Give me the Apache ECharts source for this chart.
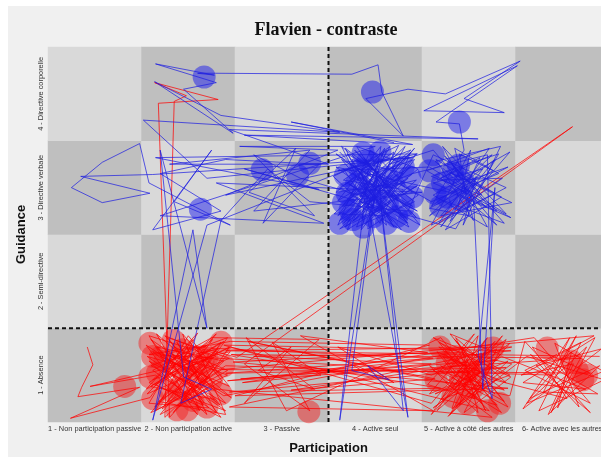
<!DOCTYPE html>
<html>
<head>
<meta charset="utf-8">
<script src="https://cdn.jsdelivr.net/npm/echarts@6/dist/echarts.min.js"></script>
<style>
html,body{margin:0;padding:0;background:#ffffff;width:601px;height:457px;overflow:hidden;}
#chart{position:absolute;left:8px;top:6px;width:593px;height:451px;}
</style>
</head>
<body>
<div id="chart"></div>
<script>
const participation = ['1 - Non participation passive','2 - Non participation active','3 - Passive','4 - Active seul','5 - Active à côté des autres','6- Active avec les autres'];
const guidance = ['1 - Absence','2 - Semi-directive','3 - Directive verbale','4 - Directive corporelle'];

const blueWalk = [
[3.62,3.38],[4.35,2.62],[3.70,3.05],[4.42,3.30],[3.85,2.55],[4.10,3.42],[3.65,2.80],[4.40,2.95],[3.95,3.40],[3.60,2.60],[4.30,3.15],[3.75,3.30],[4.20,2.58],[3.88,3.05],[4.45,2.75],[3.66,3.20],[4.05,2.62],[4.38,3.38],[3.72,2.70],[4.15,3.25],
[4.62,3.40],[5.30,2.60],[4.70,3.10],[5.25,3.35],[4.58,2.70],[5.10,3.05],[4.75,2.55],[5.35,2.90],[4.65,3.30],[5.05,2.65],[4.85,3.42],[5.32,3.15],[4.60,2.85],
[4.25,3.05],[3.58,2.95],[4.12,3.40],[3.80,2.58],[4.42,2.85],[3.68,3.42],[4.00,2.75],[4.35,3.10],[3.62,2.65],[4.22,3.32],[3.90,2.90],
[3.20,3.10],[2.70,3.35],[3.35,2.70],[2.65,2.95],[3.15,3.42],[2.80,2.62],[3.40,3.25],
[2.40,3.30],[1.70,3.15],[2.35,2.75],[1.62,2.55],[2.25,3.40],[1.85,2.85],[2.45,2.60],[1.58,3.05],
[1.48,3.47],[1.08,3.27],[0.75,3.00],[1.08,2.84],[1.59,2.94],[0.85,3.12],[1.62,3.14],
[4.40,3.32],[2.20,3.10],
[1.52,3.72],[3.62,3.59],[2.35,3.77],[1.64,4.13],[2.48,3.58],[1.95,4.05],[2.30,4.12],[1.65,4.32],[2.28,4.20],[2.10,4.22],
[2.29,4.22],[3.75,4.21],[4.03,4.31],[4.07,4.02],
[4.30,3.55],[3.90,3.95],[4.35,4.05],
[4.75,4.00],[5.55,4.35],[4.95,3.95],[5.38,3.80],[4.52,3.82],[5.52,4.30],[4.65,3.70],[4.90,3.68],
[4.95,3.40],[4.60,2.80],[5.28,3.30],[4.70,2.58],[5.15,3.20],[4.62,3.05],[5.30,2.75],[4.82,3.25],[5.05,2.90],
[5.15,0.85],[5.28,3.00],[5.10,1.20],[5.25,0.75],[5.20,3.35],
[4.40,3.15],[3.70,2.88],[4.28,2.55],[3.64,3.30],[4.18,3.00],[3.78,3.40],[4.44,2.68],[3.92,3.18],
[3.62,0.52],[4.02,3.10],[3.75,1.05],[4.15,0.95],[3.92,1.10],[4.30,0.62],[4.05,2.90],[4.35,0.55],[3.85,3.20],
[4.38,3.40],[3.60,2.70],[4.08,3.36],[3.70,2.55],[4.45,3.02],[3.85,2.68],[4.25,3.45],[3.55,3.12],[4.12,2.60],[3.98,3.30],
[2.20,2.60],[1.62,0.52],[2.05,2.55],[2.20,1.50],[1.70,3.40],[1.95,0.98],[2.25,0.85],[1.92,0.70],[2.35,2.65],
[2.85,3.20],[3.30,2.85],[4.35,2.75],[4.62,3.35],[5.40,3.00],[4.68,2.62],[5.22,3.42],[4.55,3.18],[5.45,2.68],[4.80,2.95],
[3.58,3.22],[4.28,2.70],[3.80,3.44],[4.46,3.20],[3.68,2.58],[4.02,3.18],[4.36,2.58],[3.62,3.00],[4.20,3.38],[3.90,2.62],[4.44,3.08],[3.74,2.92],[4.10,2.70],[3.56,2.72],[4.32,3.44],[3.96,2.80],[3.64,3.44],[4.40,2.80],[3.82,3.12],[4.18,2.64],
[3.70,3.36],[4.46,2.92],[3.92,2.56],[4.06,3.44],[3.60,2.86],[4.26,3.26],[3.86,2.74],[4.42,3.42],[3.66,2.62],[4.14,3.06],[3.78,3.22],[4.34,2.66],[3.98,3.10],[3.58,3.36],[4.24,2.86],[3.88,3.32],[4.48,2.60],[3.72,3.04],[4.08,2.78],[3.62,2.56],
[4.38,3.22],[3.84,2.90],[4.16,3.44],[3.66,3.08],[4.30,2.98],[3.94,2.68],[4.44,3.36],[3.76,2.64],[4.04,3.28],[3.60,3.18],
[4.58,3.22],[5.40,2.72],[4.72,3.44],[5.20,2.58],[4.62,2.92],[5.44,3.38],[4.80,2.64],[5.12,3.32],[4.66,3.08],[5.36,3.10],[4.88,2.76],[5.02,3.40],[4.60,2.60],[5.28,2.94],[4.76,3.18],[5.46,2.84],[4.70,2.70],[5.08,3.12],[4.94,2.60],[5.34,3.44],
[4.64,3.28],[5.18,2.80],[4.84,3.02],[5.42,3.22],[4.58,2.78],[5.00,2.70],[4.90,3.36],[5.26,3.18],[4.68,2.88],[5.38,2.62],[4.74,3.34],[5.14,2.92],[4.60,3.12],[5.32,3.36],[4.86,2.56],
[2.60,3.20],[3.40,2.98],[1.65,3.32],[4.45,3.36],[2.40,2.92],[3.60,3.40],[2.55,3.44],[4.00,3.44],[1.70,2.70],[3.45,2.62],[2.30,3.05],[4.50,2.95],[2.70,2.75],[3.30,3.40],[1.80,3.25],[3.50,3.25],
[2.44,3.62],[5.10,3.52],[2.60,3.56],[4.40,3.46],[3.10,3.70],[4.20,3.48]
];

const redWalk = [
[0.92,1.30],[0.98,1.11],[0.86,0.87],[0.82,0.77],[1.48,0.87],[0.74,0.54],[1.59,0.76],
[2.05,1.38],[1.62,0.95],[2.30,1.20],[1.75,1.42],[2.40,0.70],[1.58,1.15],[2.20,0.58],[1.85,1.30],[2.42,1.05],[1.65,0.62],[2.10,1.45],[1.55,0.85],[2.35,1.35],[1.90,0.66],[2.28,0.92],[1.60,1.38],[2.15,0.75],[1.72,1.08],[2.45,1.25],[1.80,0.55],
[1.68,3.90],[2.32,3.94],[1.64,4.12],[1.98,3.98],[1.85,3.92],[1.75,0.55],
[2.38,1.15],[1.66,1.30],[2.22,0.65],[1.58,0.70],[2.00,1.42],[2.44,0.88],[1.70,1.20],[2.12,1.00],[1.88,1.35],[2.30,0.60],[1.62,1.05],[2.25,1.40],
[3.40,1.38],[2.60,0.70],[3.10,1.30],[2.75,1.05],[3.35,0.85],[2.62,1.40],[3.05,0.62],
[4.70,1.40],[5.35,0.60],[4.62,1.05],[5.20,1.30],[4.80,0.58],[5.42,1.15],[4.58,0.80],[5.10,1.42],[4.90,0.68],[5.30,0.95],[4.66,1.25],[5.05,0.75],[5.40,1.38],[4.75,0.92],[5.25,0.55],
[2.30,0.85],[1.75,1.25],[2.42,1.00],[1.60,0.60],[2.18,1.28],
[2.52,1.19],[6.11,3.65],[2.60,1.12],
[3.30,0.62],[2.90,1.35],[3.42,1.00],[2.58,0.92],
[5.70,1.40],[6.30,0.70],[5.60,1.05],[6.20,1.35],[5.85,0.58],[6.40,1.10],[5.65,0.75],[6.10,1.25],[5.95,0.65],[6.35,1.40],[5.58,0.92],[6.25,0.85],
[5.35,1.20],[4.62,0.65],[5.15,1.05],[4.85,1.38],[5.38,0.72],[4.70,1.10],[5.22,0.62],
[2.45,1.30],[1.65,0.90],[2.35,0.55],[1.90,1.12],[2.20,1.32],[1.58,1.22],
[3.80,1.10],[4.20,0.92],[3.60,1.30],
[4.60,1.00],[5.30,1.28],[4.95,0.60],[5.45,0.98],[4.68,1.35],[5.12,0.82],
[5.62,1.20],[6.45,0.95],[5.75,0.62],[6.15,1.42],[5.90,1.00],
[2.40,1.10],[1.95,0.80],[2.25,1.18],[0.95,0.88],[1.65,1.00],[2.10,0.58],[1.55,1.32],[2.38,0.78],
[4.75,1.22],[5.28,0.80],[4.88,1.05],[6.05,0.75],[5.68,1.30],[6.30,1.02],
[2.36,1.06],[1.62,1.25],[2.34,0.68],[1.78,1.40],[2.44,1.18],[1.56,0.80],[2.08,1.32],[2.40,0.58],[1.68,0.72],[2.26,1.08],[1.84,0.60],[2.42,1.40],[1.60,1.10],[2.14,0.86],[1.94,1.44],[2.36,0.94],[1.70,0.58],[2.22,1.22],[1.58,1.42],[2.02,0.70],[2.44,1.30],
[1.74,0.96],[2.30,1.44],[1.64,0.66],[2.18,1.12],[1.86,0.82],[2.40,0.62],[1.56,1.20],[2.06,1.06],[2.32,1.28],[1.80,1.16],[2.46,0.76],[1.66,1.44],[2.12,0.62],[1.92,1.20],[2.28,0.74],[1.60,0.88],[2.38,1.36],[1.76,0.70],[2.20,0.96],[1.98,1.30],
[4.62,1.18],[2.40,1.02],[5.40,1.08],[2.44,0.82],[4.70,0.86],[2.46,1.22],[6.20,1.18],[2.42,0.94],[5.45,1.26],[2.38,1.32],[4.60,0.70],
[5.20,1.40],[4.66,0.62],[5.34,1.22],[4.80,1.44],[5.42,0.66],[4.58,1.10],[5.10,0.60],[4.92,1.30],[5.44,1.00],[4.70,0.74],[5.28,1.36],[4.84,0.84],[5.16,1.18],[4.62,1.40],[5.38,0.84],[4.76,1.02],[5.06,1.44],[4.56,0.90],[5.30,0.68],[4.88,1.16],
[5.22,0.90],[4.68,1.30],[5.46,1.12],[4.82,0.64],[5.00,1.20],[4.60,0.58],[5.36,1.42],[4.94,0.88],[5.14,0.70],[4.72,1.20],[5.40,0.92],[4.86,1.40],[5.08,0.96],[4.64,0.80],[5.26,1.10],[4.78,0.56],[5.44,1.34],[4.98,1.02],[5.18,0.62],[4.90,1.24],
[2.70,1.20],[4.60,1.12],[2.56,0.96],[5.30,1.16],[3.10,0.84],[4.64,0.96],[2.64,1.36],[5.44,0.78],
[5.60,1.36],[6.30,0.60],[5.72,1.10],[6.42,1.28],[5.58,0.64],[6.08,1.40],[5.80,0.82],[6.38,0.80],[5.66,1.22],[6.18,0.66],[5.92,1.34],[6.44,1.04],[5.62,0.70],[6.26,1.30],[5.88,0.60],[6.12,1.12],[5.56,1.00],[6.34,1.42],
[2.36,1.06],[1.72,0.64],[2.26,1.38],[1.58,0.92],[2.16,0.68],[1.82,1.24],
[2.45,1.36],[4.58,1.32],[2.50,0.78],[5.42,0.86],[2.48,1.14],[4.56,1.24],[3.20,1.42],[4.62,0.62],[2.44,0.66],[5.46,1.30],[2.40,1.26],[6.40,1.20]
];

const blueDots = [
[2.17,4.18],[2.13,2.77],[2.79,3.19],[3.17,3.13],[3.30,3.26],[3.97,4.02],[4.90,3.70],
[3.87,3.37],[4.30,3.22],[4.37,3.11],[3.70,2.94],[3.94,2.97],[4.13,2.84],[3.73,2.76],[3.98,2.69],[4.23,2.69],[4.40,2.90],[3.84,3.19],[4.13,3.11],[3.87,2.58],[3.68,3.13],
[4.05,3.38],[4.20,3.02],[3.80,3.04],[4.00,2.86],[3.66,2.84],[4.30,2.80],[3.92,3.28],[4.12,2.62],[3.62,2.62],[4.36,2.64],[3.76,2.66],
[4.62,3.35],[4.89,3.24],[4.83,3.16],[4.64,2.94],[4.77,2.90],[4.91,2.87],[4.72,3.05],[4.58,3.18],[4.95,3.05],[4.70,2.80]
];

const redDots = [
[1.32,0.88],
[1.70,1.19],[1.94,1.27],[2.20,1.19],[1.67,1.02],[2.09,0.98],[1.80,0.84],[2.05,0.73],[1.88,0.63],[2.20,0.66],[1.59,1.34],[1.84,1.37],[2.16,1.13],[1.59,0.98],[1.99,0.63],
[1.62,0.75],[2.35,0.80],[2.35,1.35],[1.95,1.05],[1.75,1.15],[2.25,0.95],[1.62,1.20],[2.38,1.10],[1.90,0.85],
[3.29,0.61],
[4.69,1.30],[5.26,1.29],[4.91,0.95],[5.05,0.87],[4.83,0.77],[5.33,0.70],[4.98,0.70],[4.77,1.13],
[4.65,0.95],[5.15,1.10],[5.00,1.05],[4.85,1.20],[5.20,0.62],
[5.84,1.29],[6.16,1.05],[6.22,0.95],[6.26,1.00],[6.10,1.15]
];

const cells = [];
for (let i = 0; i < participation.length; i++) {
  for (let j = 0; j < guidance.length; j++) {
    cells.push([i, j, (i + j) % 2]);
  }
}

const chart = echarts.init(document.getElementById('chart'), null, {renderer: 'canvas'});
const labelFont = 'Liberation Sans, Arial, sans-serif';
chart.setOption({
  animation: false,
  backgroundColor: '#f0f0f0',
  graphic: [{
    type: 'text', x: 318, y: 24, z: 100,
    style: {text: 'Flavien - contraste', font: 'bold 18px "Liberation Serif", "Times New Roman", serif', fill: '#111', textAlign: 'center', textVerticalAlign: 'middle'}
  }],
  grid: {left: 40, top: 41, right: -8, bottom: 35, outerBoundsMode: 'none', containLabel: false},
  visualMap: {
    type: 'piecewise', show: false, seriesIndex: 0, dimension: 2,
    pieces: [{value: 0, color: '#bfbfbf'}, {value: 1, color: '#d9d9d9'}]
  },
  xAxis: [{
    type: 'category', data: participation, position: 'bottom',
    axisLine: {show: false}, axisTick: {show: false}, splitLine: {show: false},
    axisLabel: {interval: 0, fontSize: 7.4, color: '#333', margin: 3, fontFamily: labelFont},
    name: 'Participation', nameLocation: 'middle', nameGap: 20,
    nameTextStyle: {fontSize: 13, fontWeight: 'bold', color: '#111', fontFamily: labelFont}
  }, {
    type: 'value', min: 0.5, max: 6.5, show: false
  }],
  yAxis: [{
    type: 'category', data: guidance,
    axisLine: {show: false}, axisTick: {show: false}, splitLine: {show: false},
    axisLabel: {interval: 0, rotate: 90, fontSize: 7.4, color: '#333', margin: 4, fontFamily: labelFont},
    name: 'Guidance', nameLocation: 'middle', nameGap: 20, nameRotate: 90,
    nameTextStyle: {fontSize: 13, fontWeight: 'bold', color: '#111', fontFamily: labelFont}
  }, {
    type: 'value', min: 0.5, max: 4.5, show: false
  }],
  series: [{
    type: 'heatmap', data: cells, xAxisIndex: 0, yAxisIndex: 0, silent: true,
    itemStyle: {borderWidth: 0}
  }, {
    type: 'scatter', data: redDots, xAxisIndex: 1, yAxisIndex: 1, silent: true,
    symbol: 'circle', symbolSize: 23, itemStyle: {color: 'rgba(245,30,30,0.6)'}
  }, {
    type: 'scatter', data: blueDots, xAxisIndex: 1, yAxisIndex: 1, silent: true,
    symbol: 'circle', symbolSize: 23, itemStyle: {color: 'rgba(20,20,240,0.6)'}
  }, {
    type: 'line', data: redWalk, xAxisIndex: 1, yAxisIndex: 1, silent: true,
    showSymbol: false, symbol: 'none',
    lineStyle: {color: 'rgba(255,0,0,0.72)', width: 1}
  }, {
    type: 'line', data: blueWalk, xAxisIndex: 1, yAxisIndex: 1, silent: true,
    showSymbol: false, symbol: 'none',
    lineStyle: {color: 'rgba(30,30,225,0.72)', width: 1}
  }, {
    type: 'line', data: [[3.5, 0.5], [3.5, 4.5]], xAxisIndex: 1, yAxisIndex: 1, silent: true,
    showSymbol: false, symbol: 'none', z: 10,
    lineStyle: {color: '#111', width: 2, type: [4, 3]}
  }, {
    type: 'line', data: [[0.5, 1.5], [6.5, 1.5]], xAxisIndex: 1, yAxisIndex: 1, silent: true,
    showSymbol: false, symbol: 'none', z: 10,
    lineStyle: {color: '#111', width: 2, type: [4, 3]}
  }]
});
</script>
</body>
</html>
